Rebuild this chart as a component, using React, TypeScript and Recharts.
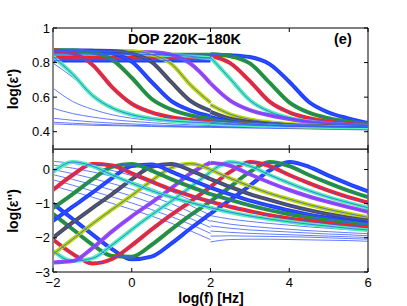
import React from 'react';
import { LineChart, Line, XAxis, YAxis, ReferenceArea } from 'recharts';

// log(f) grids of the two instruments
const LOW_F = [-2, -1.5, -1, -0.5, 0, 0.5, 1, 1.5, 2];
const HIGH_F = [2, 2.5, 3, 3.5, 4, 4.5, 5, 5.5, 6];
const F_TICKS = [-2, 0, 2, 4, 6];
const EPS1_TICKS = [0.4, 0.6, 0.8, 1];
const EPS2_TICKS = [-3, -2, -1, 0];

// colour of each measured temperature (high T -> low T)
const SERIES_COLORS = ['#1f3fff', '#1f9a1f', '#ff1f1f', '#4ff0b4', '#a344f5', '#bcd800', '#4d4d4d', '#1f3fff', '#1f9a1f', '#ff1f1f', '#4ff0b4'];
const FIT_COLOR = '#3a5cff';

// log(eps') measured, low-frequency instrument
const EPS1_LOW = [
  [0.812, 0.812, 0.812, 0.812, 0.812, 0.812, 0.812, 0.812, 0.812],
  [0.845, 0.845, 0.845, 0.845, 0.845, 0.845, 0.845, 0.845, 0.845],
  [0.827, 0.827, 0.827, 0.827, 0.827, 0.827, 0.827, 0.827, 0.827],
  [0.852, 0.852, 0.851, 0.85, 0.849, 0.847, 0.843, 0.836, 0.825],
  [0.862, 0.862, 0.862, 0.862, 0.862, 0.86, 0.846, 0.792, 0.68],
  [0.866, 0.866, 0.866, 0.866, 0.865, 0.847, 0.793, 0.669, 0.568],
  [0.868, 0.868, 0.868, 0.867, 0.852, 0.804, 0.688, 0.577, 0.521],
  [0.87, 0.87, 0.869, 0.854, 0.806, 0.689, 0.578, 0.522, 0.489],
  [0.872, 0.87, 0.86, 0.818, 0.712, 0.591, 0.529, 0.494, 0.473],
  [0.871, 0.853, 0.788, 0.658, 0.562, 0.512, 0.484, 0.468, 0.458],
  [0.835, 0.733, 0.61, 0.538, 0.498, 0.476, 0.463, 0.455, 0.45],
];
// log(eps') measured, high-frequency instrument
const EPS1_HIGH = [
  [0.845, 0.842, 0.832, 0.791, 0.689, 0.572, 0.511, 0.477, 0.45],
  [0.848, 0.837, 0.795, 0.684, 0.57, 0.51, 0.478, 0.458, 0.446],
  [0.838, 0.797, 0.693, 0.574, 0.512, 0.478, 0.458, 0.446, 0.439],
  [0.83, 0.706, 0.582, 0.516, 0.48, 0.459, 0.447, 0.439, 0.434],
  [0.68, 0.58, 0.525, 0.495, 0.473, 0.456, 0.446, 0.44, 0.435],
  [0.556, 0.501, 0.471, 0.455, 0.445, 0.438, 0.434, 0.432, 0.43],
  [0.515, 0.475, 0.456, 0.446, 0.438, 0.434, 0.431, 0.429, 0.428],
  [0.485, 0.457, 0.446, 0.438, 0.434, 0.431, 0.429, 0.428, 0.427],
  [0.47, 0.454, 0.445, 0.438, 0.434, 0.431, 0.429, 0.428, 0.426],
  [0.455, 0.446, 0.44, 0.436, 0.432, 0.43, 0.428, 0.427, 0.425],
  [0.448, 0.442, 0.437, 0.434, 0.431, 0.429, 0.427, 0.426, 0.424],
];
// log(eps') fit-only curves (lower temperatures)
const EPS1_FIT_LOW = [
  [0.797, 0.715, 0.62, 0.54, 0.498, 0.476, 0.463, 0.455, 0.449],
  [0.652, 0.575, 0.53, 0.498, 0.478, 0.465, 0.456, 0.45, 0.445],
  [0.536, 0.505, 0.485, 0.47, 0.46, 0.452, 0.445, 0.44, 0.436],
  [0.478, 0.466, 0.457, 0.45, 0.445, 0.44, 0.436, 0.433, 0.43],
  [0.455, 0.449, 0.444, 0.44, 0.437, 0.434, 0.431, 0.429, 0.428],
  [0.445, 0.441, 0.437, 0.435, 0.433, 0.43, 0.428, 0.426, 0.425],
];
const EPS1_FIT_HIGH = [
  [0.44, 0.436, 0.433, 0.43, 0.428, 0.426, 0.424, 0.422, 0.42],
  [0.438, 0.434, 0.431, 0.428, 0.426, 0.424, 0.422, 0.42, 0.418],
  [0.434, 0.431, 0.428, 0.426, 0.424, 0.422, 0.42, 0.418, 0.416],
  [0.43, 0.428, 0.426, 0.424, 0.422, 0.42, 0.418, 0.416, 0.414],
  [0.428, 0.426, 0.424, 0.422, 0.42, 0.418, 0.416, 0.414, 0.412],
  [0.425, 0.423, 0.421, 0.42, 0.418, 0.416, 0.414, 0.412, 0.41],
];

// log(eps'') measured, low-frequency instrument
const EPS2_LOW = [
  [-1.0, -1.45, -1.9, -2.33, -2.63, -2.55, -2.17, -1.72, -1.29],
  [-1.3, -1.75, -2.2, -2.53, -2.55, -2.21, -1.76, -1.33, -0.93],
  [-2.05, -2.47, -2.75, -2.62, -2.22, -1.76, -1.33, -0.93, -0.51],
  [-2.38, -2.68, -2.6, -2.21, -1.76, -1.33, -0.93, -0.51, -0.07],
  [-2.72, -2.68, -2.3, -1.81, -1.37, -0.97, -0.55, -0.11, 0.2],
  [-2.48, -2.04, -1.59, -1.17, -0.76, -0.33, 0.05, 0.17, 0.0],
  [-2.0, -1.55, -1.13, -0.72, -0.29, 0.08, 0.16, -0.03, -0.28],
  [-1.5, -1.09, -0.68, -0.25, 0.1, 0.15, -0.06, -0.3, -0.53],
  [-1.13, -0.72, -0.29, 0.08, 0.16, -0.03, -0.28, -0.51, -0.72],
  [-0.6, -0.16, 0.16, 0.12, -0.11, -0.35, -0.58, -0.77, -0.94],
  [-0.07, 0.22, 0.1, -0.16, -0.4, -0.62, -0.81, -0.97, -1.12],
];
// log(eps'') measured, high-frequency instrument
const EPS2_HIGH = [
  [-1.29, -0.89, -0.47, -0.03, 0.22, 0.08, -0.18, -0.42, -0.64],
  [-0.93, -0.51, -0.07, 0.22, 0.1, -0.16, -0.4, -0.62, -0.81],
  [-0.51, -0.07, 0.22, 0.1, -0.16, -0.4, -0.62, -0.81, -0.97],
  [-0.07, 0.22, 0.1, -0.16, -0.4, -0.62, -0.81, -0.97, -1.12],
  [0.2, 0.11, -0.14, -0.38, -0.6, -0.79, -0.95, -1.1, -1.24],
  [0.0, -0.26, -0.49, -0.7, -0.87, -1.03, -1.17, -1.29, -1.4],
  [-0.28, -0.51, -0.72, -0.89, -1.05, -1.19, -1.31, -1.41, -1.49],
  [-0.53, -0.73, -0.91, -1.06, -1.2, -1.32, -1.42, -1.5, -1.57],
  [-0.72, -0.89, -1.05, -1.19, -1.31, -1.41, -1.49, -1.56, -1.63],
  [-0.94, -1.09, -1.22, -1.34, -1.43, -1.51, -1.59, -1.65, -1.71],
  [-1.12, -1.25, -1.36, -1.45, -1.53, -1.6, -1.66, -1.72, -1.77],
];
// log(eps'') fit-only curves (lower temperatures)
const EPS2_FIT_LOW = [
  [0.24, 0.18, 0.09, -0.03, -0.18, -0.4, -0.64, -0.9, -1.18],
  [0.13, 0.04, -0.07, -0.2, -0.36, -0.56, -0.8, -1.06, -1.34],
  [0.0, -0.12, -0.26, -0.41, -0.58, -0.78, -1.0, -1.25, -1.52],
  [-0.15, -0.29, -0.44, -0.6, -0.78, -0.98, -1.2, -1.44, -1.7],
  [-0.3, -0.46, -0.63, -0.8, -0.98, -1.17, -1.38, -1.61, -1.87],
  [-0.48, -0.64, -0.81, -0.99, -1.17, -1.36, -1.57, -1.8, -2.05],
];
const EPS2_FIT_HIGH = [
  [-1.35, -1.45, -1.52, -1.58, -1.63, -1.68, -1.72, -1.76, -1.8],
  [-1.5, -1.6, -1.66, -1.71, -1.75, -1.79, -1.82, -1.85, -1.88],
  [-1.65, -1.72, -1.77, -1.8, -1.83, -1.86, -1.89, -1.91, -1.94],
  [-1.8, -1.84, -1.87, -1.89, -1.91, -1.93, -1.95, -1.97, -1.99],
  [-1.95, -1.94, -1.95, -1.96, -1.97, -1.98, -2.0, -2.02, -2.04],
  [-2.12, -2.05, -2.04, -2.04, -2.05, -2.06, -2.07, -2.08, -2.1],
];

const FONT = '"Liberation Sans", Arial, Helvetica, sans-serif';
const PLOT_LEFT = 53;
const PLOT_RIGHT = 368;

const pts = (xs: number[], ys: number[]) => xs.map((x, i) => ({ x, y: ys[i] }));
const fmt = (v: number) => (v < 0 ? '\u2212' + Math.abs(v) : String(v));

function makeXTick(top: number, bottom: number, labels: boolean) {
  return (props: any) => {
    const { x, payload } = props;
    return (
      <g>
        <line x1={x} x2={x} y1={bottom} y2={bottom - 4} stroke="#000" strokeWidth={1} />
        <line x1={x} x2={x} y1={top} y2={top + 4} stroke="#000" strokeWidth={1} />
        {labels && (
          <text x={x} y={bottom + 14.5} textAnchor="middle" fontFamily={FONT} fontSize={13} fill="#000">
            {fmt(payload.value)}
          </text>
        )}
      </g>
    );
  };
}

function makeYTick() {
  return (props: any) => {
    const { y, payload } = props;
    return (
      <g>
        <line x1={PLOT_LEFT} x2={PLOT_LEFT + 4} y1={y} y2={y} stroke="#000" strokeWidth={1} />
        <line x1={PLOT_RIGHT} x2={PLOT_RIGHT - 4} y1={y} y2={y} stroke="#000" strokeWidth={1} />
        <text x={PLOT_LEFT - 3} y={y} dy={4.5} textAnchor="end" fontFamily={FONT} fontSize={13} fill="#000">
          {fmt(payload.value)}
        </text>
      </g>
    );
  };
}

type PanelProps = {
  height: number;
  margin: { top: number; right: number; bottom: number; left: number };
  xHeight: number;
  domain: [number, number];
  yTicks: number[];
  low: number[][];
  high: number[][];
  fitLow: number[][];
  fitHigh: number[][];
  xLabels: boolean;
};

function Panel({ height, margin, xHeight, domain, yTicks, low, high, fitLow, fitHigh, xLabels }: PanelProps) {
  const top = margin.top;
  const bottom = height - margin.bottom - xHeight;
  const thick = (rows: number[][], xs: number[], tag: string) =>
    rows.map((vals, i) => (
      <Line key={tag + i} data={pts(xs, vals)} dataKey="y" type="monotone" stroke={SERIES_COLORS[i]}
        strokeWidth={4} dot={false} isAnimationActive={false} />
    ));
  const thin = (rows: number[][], xs: number[], tag: string) =>
    rows.map((vals, i) => (
      <Line key={tag + i} data={pts(xs, vals)} dataKey="y" type="monotone" stroke={FIT_COLOR}
        strokeWidth={0.8} dot={false} isAnimationActive={false} />
    ));
  return (
    <LineChart width={407} height={height} margin={margin}>
      <XAxis dataKey="x" type="number" domain={[-2, 6]} ticks={F_TICKS} interval={0} height={xHeight}
        tick={makeXTick(top, bottom, xLabels)} tickLine={false} axisLine={false} allowDataOverflow />
      <YAxis type="number" domain={domain} ticks={yTicks} interval={0} width={40}
        tick={makeYTick()} tickLine={false} axisLine={{ stroke: '#8a8a8a', strokeWidth: 2 }} allowDataOverflow />
      <ReferenceArea x1={-2} x2={6} y1={domain[0]} y2={domain[1]} fill="none" stroke="#000" strokeWidth={1} ifOverflow="visible" />
      {thin(fitLow, LOW_F, 'fl')}
      {thin(fitHigh, HIGH_F, 'fh')}
      {thick(low, LOW_F, 'l')}
      {thick(high, HIGH_F, 'h')}
      {thin(low, LOW_F, 'tl')}
      {thin(high, HIGH_F, 'th')}
    </LineChart>
  );
}

export default function App() {
  return (
    <div style={{ position: 'absolute', left: 0, top: 0, width: 407, height: 306, background: '#fff' }}>
      <div style={{ position: 'absolute', left: 0, top: 0 }}>
        <Panel height={160} margin={{ top: 28, right: 39, bottom: 1, left: 13 }} xHeight={10} domain={[0.3, 1]}
          yTicks={EPS1_TICKS} low={EPS1_LOW} high={EPS1_HIGH} fitLow={EPS1_FIT_LOW} fitHigh={EPS1_FIT_HIGH} xLabels={false} />
      </div>
      <div style={{ position: 'absolute', left: 0, top: 149 }}>
        <Panel height={157} margin={{ top: 0, right: 39, bottom: 4, left: 13 }} xHeight={30} domain={[-3, 0.6]}
          yTicks={EPS2_TICKS} low={EPS2_LOW} high={EPS2_HIGH} fitLow={EPS2_FIT_LOW} fitHigh={EPS2_FIT_HIGH} xLabels />
      </div>
      <svg width={407} height={306} style={{ position: 'absolute', left: 0, top: 0, pointerEvents: 'none' }}>
        <text x={128} y={44} fontFamily={FONT} fontWeight="bold" fontSize={14.5} fill="#000">DOP 220K{'\u2212'}180K</text>
        <text x={334} y={44} fontFamily={FONT} fontWeight="bold" fontSize={14.5} fill="#000">(e)</text>
        <text transform="translate(18,89) rotate(-90)" textAnchor="middle" fontFamily={FONT} fontWeight="bold" fontSize={14} fill="#000">log(ε')</text>
        <text transform="translate(18,211) rotate(-90)" textAnchor="middle" fontFamily={FONT} fontWeight="bold" fontSize={14} fill="#000">log(ε'')</text>
        <text x={211} y={302.5} textAnchor="middle" fontFamily={FONT} fontWeight="bold" fontSize={14} fill="#000">log(f) [Hz]</text>
      </svg>
    </div>
  );
}
